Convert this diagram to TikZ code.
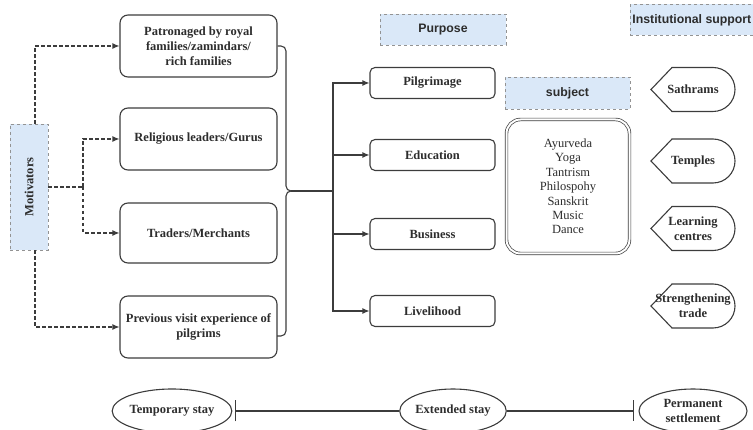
\documentclass[tikz,border=0pt]{standalone}
\usepackage{fontspec}
\setmainfont{Liberation Serif}
\newfontfamily\sansf{Liberation Sans}
\usetikzlibrary{shapes.geometric,arrows.meta}
\definecolor{lb}{RGB}{218,232,248}
\definecolor{ln}{RGB}{60,60,60}
\definecolor{tx}{RGB}{45,45,45}
\newcommand\instshape[1]{\draw[draw=ln, line width=1.1pt] (651,#1) -- (672,#1-22) -- (713,#1-22) arc[start angle=-90,end angle=90,x radius=22,y radius=22] -- (672,#1+22) -- cycle;}
\begin{document}
\begin{tikzpicture}[x=1pt,y=-1pt,
 every node/.style={font=\fontsize{12.5}{15}\selectfont\bfseries, text=tx},
 mainbox/.style={draw=ln, line width=1.1pt, rounded corners=8pt, minimum width=157pt, minimum height=62pt, align=center, inner sep=2pt},
 purbox/.style={draw=ln, line width=1.1pt, rounded corners=5pt, minimum width=125pt, minimum height=31pt},
 lbl/.style={draw=gray!85, dashed, fill=lb, line width=0.8pt, font=\sansf\fontsize{12.3}{14}\selectfont\bfseries},
 ell/.style={ellipse, draw=ln, line width=1.1pt, inner sep=0pt, align=center},
 instnode/.style={align=center, inner sep=0pt},
 dline/.style={draw=ln, line width=1.1pt, dash pattern=on 3.5pt off 2.5pt},
 darr/.style={dline, -{Latex[length=7pt,width=6pt]}},
 sline/.style={draw=ln, line width=1.1pt},
 sarr/.style={sline, -{Latex[length=7pt,width=6pt]}},
]
\useasboundingbox (0,0) rectangle (753,430);
\clip (0,0) rectangle (753,430);
% Motivators
\node[lbl, minimum width=38pt, minimum height=126pt, font=\fontsize{12.5}{15}\selectfont\bfseries] (mot) at (29,187) {\rotatebox{90}{Motivators}};
% main boxes
\node[mainbox] (b1) at (198.5,46) {Patronaged by royal\\families/zamindars/\\rich families};
\node[mainbox] (b2) at (198.5,139) {Religious leaders/Gurus};
\node[mainbox, minimum height=60pt] (b3) at (198.5,233) {Traders/Merchants};
\node[mainbox] (b4) at (198.5,327) {Previous visit experience of\\pilgrims};
% dashed connectors
\coordinate (mj) at (83,187);
\draw[darr] ([xshift=6pt]mot.north) |- (b1.west);
\draw[dline] (mot.east) -- (mj);
\draw[darr] (mj) |- (b2.west);
\draw[darr] (mj) |- (b3.west);
\draw[darr] ([xshift=6pt]mot.south) |- (b4.west);
% brace
\coordinate (nib) at (291,191);
\draw[sline, rounded corners=5pt] (b1.east) -| (286,191) -- (nib);
\draw[sline, rounded corners=5pt] (277,336) -| (286,191) -- (nib);
% purposes
\node[lbl, minimum width=126pt, minimum height=31pt] (purp) at (443,29.5) {Purpose};
\node[purbox] (p1) at (432.5,83) {Pilgrimage};
\node[purbox] (p2) at (432.5,155) {Education};
\node[purbox] (p3) at (432.5,234) {Business};
\node[purbox] (p4) at (432.5,311) {Livelihood};
\coordinate (tr) at (333,191);
\draw[sline] (nib) -- (tr);
\draw[sarr] (tr) |- (p1.west);
\draw[sarr] (tr) |- (p2.west);
\draw[sarr] (tr) |- (p3.west);
\draw[sarr] (tr) |- (p4.west);
% subject
\node[lbl, minimum width=125pt, minimum height=32pt] (subj) at (567.5,93) {subject};
\node[draw=ln, double=white, double distance=2pt, line width=0.7pt, rounded corners=14pt, minimum width=123pt, minimum height=134pt, font=\fontsize{12.5}{14.4}\selectfont, align=center] (slist) at (568,186.5) {Ayurveda\\Yoga\\Tantrism\\Philospohy\\Sanskrit\\Music\\Dance};
% institutional support
\node[lbl, minimum height=31pt, inner xsep=2pt, anchor=west] (inst) at (630,20) {Institutional support};
\instshape{89.5}
\instshape{161}
\instshape{228.5}
\instshape{306}
\node[instnode] (i1) at (693,89.5) {Sathrams};
\node[instnode] (i2) at (693,161) {Temples};
\node[instnode] (i3) at (693,228.5) {Learning\\centres};
\node[instnode] (i4) at (693,306) {Strengthening\\trade};
% timeline
\node[ell, minimum width=104pt, minimum height=44pt] (t1) at (172,411) {Temporary stay};
\node[ell, minimum width=106pt, minimum height=44pt] (t2) at (453,411) {Extended stay};
\node[ell, minimum width=108pt, minimum height=44pt] (t3) at (693,411) {Permanent\\settlement};
\coordinate (bar1) at (235,411);
\coordinate (bar2) at (634,411);
\draw[sline, {Bar[width=21pt]}-] (bar1) -- (t2.west);
\draw[sline, -{Bar[width=21pt]}] (t2.east) -- (bar2);
\end{tikzpicture}
\end{document}
